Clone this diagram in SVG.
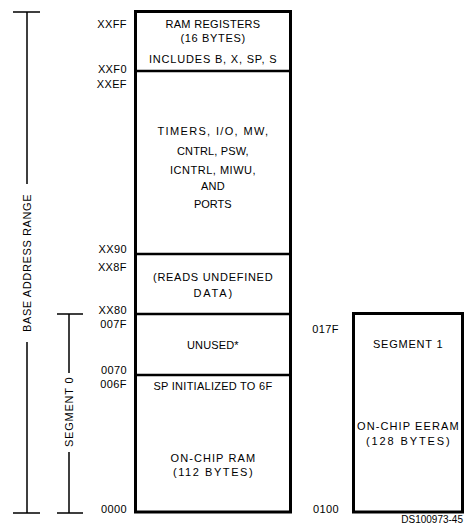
<svg xmlns="http://www.w3.org/2000/svg" width="464" height="525" viewBox="0 0 464 525">
<style>
text{font-family:"Liberation Sans",Arial,sans-serif;font-size:11px;fill:#000;letter-spacing:0.4px}
.m{text-anchor:middle}
.r{text-anchor:end}
.box{fill:#fff;stroke:#000;stroke-width:3}
.div{stroke:#000;stroke-width:2.5}
.br{stroke:#000;stroke-width:1.5;fill:none}
</style>
<rect width="464" height="525" fill="#fff"/>
<g id="brackets">
<path class="br" d="M13 12H40M27 12V184M27 342V513M13 513H40"/>
<text transform="translate(31,263) rotate(-90)" class="m" textLength="138" lengthAdjust="spacing">BASE ADDRESS RANGE</text>
<path class="br" d="M57 314H83M69 314V373M69 452V513M57 513H83"/>
<text transform="translate(73,412) rotate(-90)" class="m" textLength="70" lengthAdjust="spacing">SEGMENT 0</text>
</g>
<g id="addresses">
<text x="127" y="28" class="r">XXFF</text>
<text x="127" y="73" class="r">XXF0</text>
<text x="127" y="88" class="r">XXEF</text>
<text x="127" y="253" class="r">XX90</text>
<text x="127" y="271" class="r">XX8F</text>
<text x="127" y="314" class="r">XX80</text>
<text x="127" y="328" class="r">007F</text>
<text x="127" y="374" class="r">0070</text>
<text x="127" y="388" class="r">006F</text>
<text x="127" y="513" class="r">0000</text>
<text x="339" y="333" class="r">017F</text>
<text x="339" y="513" class="r">0100</text>
</g>
<g id="segment0">
<rect class="box" x="135.5" y="11.5" width="155" height="500.5"/>
<line class="div" x1="135.5" y1="71" x2="290.5" y2="71"/>
<line class="div" x1="135.5" y1="254" x2="290.5" y2="254"/>
<line class="div" x1="135.5" y1="314" x2="290.5" y2="314"/>
<line class="div" x1="135.5" y1="375" x2="290.5" y2="375"/>
</g>
<g id="ram-registers">
<text x="213" y="28" class="m" textLength="95" lengthAdjust="spacing">RAM REGISTERS</text>
<text x="213" y="42" class="m" textLength="65" lengthAdjust="spacing">(16 BYTES)</text>
<text x="213" y="63" class="m" textLength="128" lengthAdjust="spacing">INCLUDES B, X, SP, S</text>
</g>
<g id="peripherals">
<text x="213" y="135" class="m" textLength="111" lengthAdjust="spacing">TIMERS, I/O, MW,</text>
<text x="213" y="155" class="m" textLength="72" lengthAdjust="spacing">CNTRL, PSW,</text>
<text x="213" y="174" class="m" textLength="86" lengthAdjust="spacing">ICNTRL, MIWU,</text>
<text x="213" y="190" class="m" textLength="24" lengthAdjust="spacing">AND</text>
<text x="213" y="208" class="m" textLength="38" lengthAdjust="spacing">PORTS</text>
</g>
<g id="undefined">
<text x="213" y="281" class="m" textLength="120" lengthAdjust="spacing">(READS UNDEFINED</text>
<text x="213" y="297" class="m" textLength="39" lengthAdjust="spacing">DATA)</text>
</g>
<g id="unused">
<text x="213" y="349" class="m" textLength="52" lengthAdjust="spacing">UNUSED*</text>
</g>
<g id="ram">
<text x="213" y="390" class="m" textLength="119" lengthAdjust="spacing">SP INITIALIZED TO 6F</text>
<text x="213" y="462" class="m" textLength="85" lengthAdjust="spacing">ON-CHIP RAM</text>
<text x="213" y="476" class="m" textLength="80" lengthAdjust="spacing">(112 BYTES)</text>
</g>
<g id="segment1">
<rect class="box" x="353.5" y="313.5" width="109" height="198.5"/>
<text x="408" y="348" class="m" textLength="70" lengthAdjust="spacing">SEGMENT 1</text>
<text x="408" y="430" class="m" textLength="102" lengthAdjust="spacing">ON-CHIP EERAM</text>
<text x="408" y="445" class="m" textLength="84" lengthAdjust="spacing">(128 BYTES)</text>
</g>
<text x="463" y="523" class="r" style="font-size:10px;letter-spacing:0">DS100973-45</text>
</svg>
